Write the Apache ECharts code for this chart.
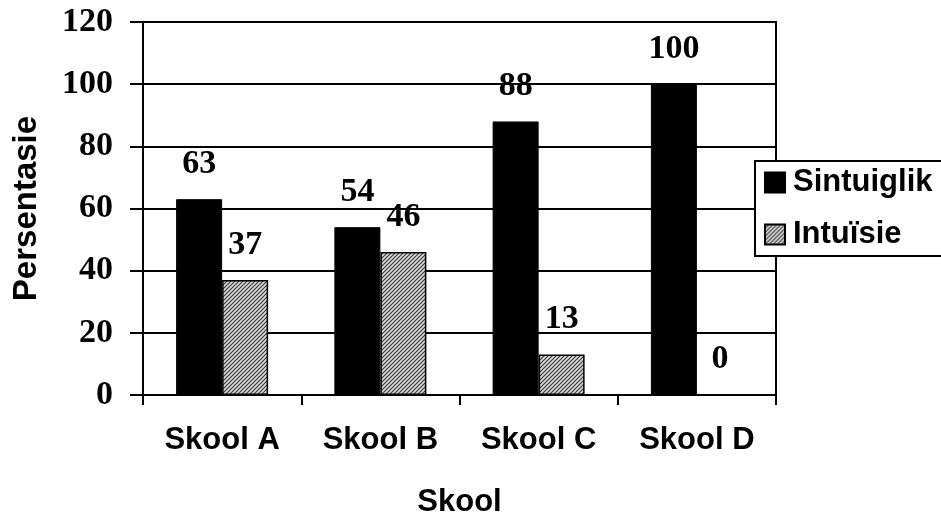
<!DOCTYPE html>
<html><head><meta charset="utf-8">
<script src="https://cdn.jsdelivr.net/npm/echarts@6/dist/echarts.min.js"></script>
<style>html,body{margin:0;padding:0;background:#fff}#c{width:941px;height:515px}</style>
</head><body><div id="c"></div>
<script>
var categories = ['Skool A', 'Skool B', 'Skool C', 'Skool D'];
var sintuiglik = [63, 54, 88, 100];
var intuisie = [37, 46, 13, 0];
var yTicks = [0, 20, 40, 60, 80, 100, 120];

function hatch() {
  var c = document.createElement('canvas');
  c.width = 4; c.height = 4;
  var g = c.getContext('2d');
  g.fillStyle = '#dcdcdc'; g.fillRect(0, 0, 4, 4);
  g.strokeStyle = '#3a3a3a'; g.lineWidth = 1.2;
  g.beginPath();
  g.moveTo(-1, 5); g.lineTo(5, -1);
  g.moveTo(-1, 1); g.lineTo(1, -1);
  g.moveTo(3, 5); g.lineTo(5, 3);
  g.stroke();
  return c;
}
var hatchPattern = { image: hatch(), repeat: 'repeat' };

var chart = echarts.init(document.getElementById('c'), null, { renderer: 'canvas' });
var labelStyle = { show: true, position: 'top', distance: 18, fontFamily: 'Liberation Serif', fontWeight: 'bold', fontSize: 34, color: '#000' };
chart.setOption({
  animation: false,
  backgroundColor: '#fff',
  grid: { left: 143, right: 165, top: 22, bottom: 120, show: true, borderColor: '#000', borderWidth: 2, backgroundColor: 'transparent', containLabel: false, outerBoundsMode: 'none' },
  legend: {
    orient: 'vertical', left: 755, top: 161,
    backgroundColor: '#fff', borderColor: '#000', borderWidth: 2,
    padding: [6, 40, 6, 9], itemGap: 21, itemWidth: 20, itemHeight: 20, icon: 'rect',
    textStyle: { fontFamily: 'Liberation Sans', fontWeight: 'bold', fontSize: 31, color: '#000', padding: [0, 0, 0, 3] },
    data: ['Sintuiglik', 'Intuïsie']
  },
  xAxis: {
    type: 'category', data: categories,
    name: 'Skool', nameLocation: 'middle', nameGap: 92,
    nameTextStyle: { fontFamily: 'Liberation Sans', fontWeight: 'bold', fontSize: 31, color: '#000' },
    axisLine: { lineStyle: { color: '#000', width: 2 } },
    axisTick: { show: true, length: 10, lineStyle: { color: '#000', width: 2 } },
    axisLabel: { margin: 30, fontFamily: 'Liberation Sans', fontWeight: 'bold', fontSize: 31, color: '#000' }
  },
  yAxis: {
    type: 'value', min: yTicks[0], max: yTicks[yTicks.length - 1], interval: 20,
    name: 'Persentasie', nameLocation: 'middle', nameGap: 100, nameRotate: 90,
    nameTextStyle: { fontFamily: 'Liberation Sans', fontWeight: 'bold', fontSize: 33, color: '#000' },
    axisLine: { show: true, lineStyle: { color: '#000', width: 2 } },
    axisTick: { show: true, length: 13, lineStyle: { color: '#000', width: 2 } },
    axisLabel: { margin: 30, fontFamily: 'Liberation Serif', fontWeight: 'bold', fontSize: 34, color: '#000' },
    splitLine: { show: true, lineStyle: { color: '#000', width: 2 } }
  },
  series: [
    { name: 'Sintuiglik', type: 'bar', data: sintuiglik, barWidth: 46, barGap: '0%',
      itemStyle: { color: '#000', borderColor: '#000', borderWidth: 1 }, label: labelStyle },
    { name: 'Intuïsie', type: 'bar', data: intuisie, barWidth: 46,
      itemStyle: { color: hatchPattern, borderColor: '#000', borderWidth: 1.5 }, label: labelStyle }
  ]
});
</script></body></html>
